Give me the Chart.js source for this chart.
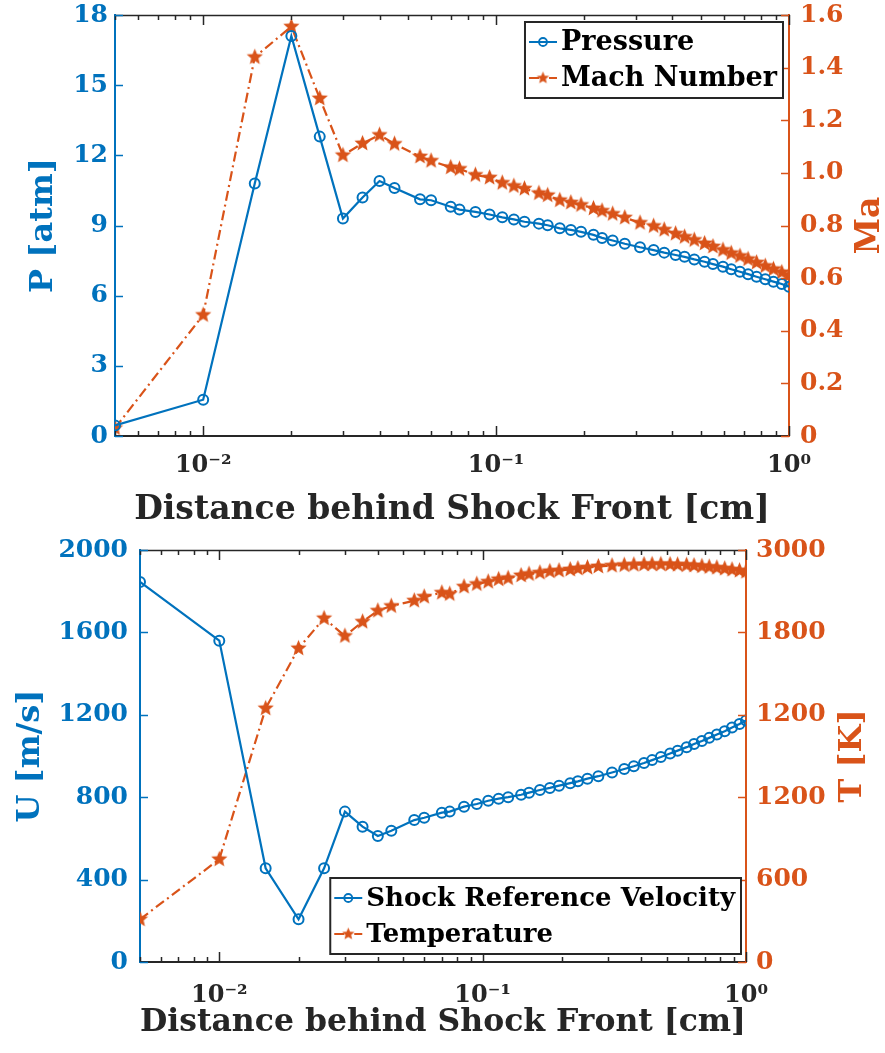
<!DOCTYPE html>
<html>
<head>
<meta charset="utf-8">
<script src="https://cdn.jsdelivr.net/npm/chart.js@4.4.0/dist/chart.umd.min.js"></script>
<style>
html, body { margin: 0; padding: 0; background: #fff; }
#wrap { position: relative; width: 885px; height: 1053px; }
canvas { position: absolute; left: 0; }
#top { top: 0; }
#bottom { top: 530px; }
</style>
</head>
<body>
<div id="wrap">
  <canvas id="top" width="885" height="530"></canvas>
  <canvas id="bottom" width="885" height="523"></canvas>
</div>
<script>
// distance behind shock front [cm]
const distance = [0.005, 0.01, 0.015, 0.02, 0.025, 0.03, 0.035, 0.04, 0.045, 0.055,
  0.06, 0.07, 0.075, 0.085, 0.095, 0.105, 0.115, 0.125, 0.14, 0.15,
  0.165, 0.18, 0.195, 0.215, 0.23, 0.25, 0.275, 0.31, 0.345, 0.375,
  0.41, 0.44, 0.475, 0.515, 0.55, 0.595, 0.635, 0.68, 0.725, 0.775,
  0.83, 0.885, 0.945, 1.0]

const pressure = [0.45, 1.55, 10.8, 17.1, 12.8, 9.3, 10.2, 10.9, 10.6, 10.12,
  10.08, 9.8, 9.68, 9.58, 9.47, 9.35, 9.26, 9.16, 9.08, 9.01,
  8.88, 8.81, 8.73, 8.6, 8.47, 8.36, 8.22, 8.07, 7.95, 7.84,
  7.74, 7.66, 7.55, 7.45, 7.35, 7.24, 7.13, 7.02, 6.92, 6.81,
  6.7, 6.6, 6.5, 6.38]

const mach = [0.03, 0.46, 1.44, 1.556, 1.283, 1.067, 1.112, 1.144, 1.11, 1.062,
  1.046, 1.021, 1.015, 0.992, 0.982, 0.962, 0.95, 0.94, 0.923, 0.915,
  0.896, 0.887, 0.878, 0.865, 0.856, 0.844, 0.83, 0.81, 0.798, 0.784,
  0.769, 0.757, 0.745, 0.732, 0.72, 0.707, 0.695, 0.684, 0.672, 0.659,
  0.646, 0.634, 0.622, 0.61]

const velocity = [1845, 1560, 455, 207, 455, 730, 657, 612, 637, 689,
  700, 725, 730, 754, 767, 783, 793, 800, 812, 822,
  835, 845, 856, 868, 877, 890, 902, 920, 937, 950,
  966, 980, 995, 1012, 1026, 1043, 1058, 1073, 1088, 1104,
  1120, 1138, 1155, 1172]

const temperature = [311, 748, 1847, 2284, 2503, 2374, 2478, 2558, 2592, 2631,
  2660, 2689, 2680, 2733, 2752, 2769, 2787, 2795, 2815, 2825,
  2835, 2845, 2850, 2858, 2865, 2872, 2880, 2886, 2890, 2893,
  2895, 2896, 2896, 2895, 2893, 2890, 2887, 2882, 2877, 2871,
  2864, 2857, 2850, 2842]

const xTickValues = [0.005, 0.006, 0.007, 0.008, 0.009,
  0.01, 0.02, 0.03, 0.04, 0.05, 0.06, 0.07, 0.08, 0.09,
  0.1, 0.2, 0.3, 0.4, 0.5, 0.6, 0.7, 0.8, 0.9, 1]
const xDecades = [0.01, 0.1, 1]
const xDecadeLabels = ['10\u207B\u00B2', '10\u207B\u00B9', '10\u2070']
// right-hand labels of the lower plot, as printed in the figure
const tempTickLabels = ['0', '600', '1200', '1200', '1800', '3000']

const blue = '#0072BD'
const orange = '#D95319'
const dark = '#262626'
const serif = "'DejaVu Serif', 'Liberation Serif', serif"
const tickFont = { family: serif, weight: 'bold', size: 25 }
const xTickFont = { family: serif, weight: 'bold', size: 24 }

function starImage(r, color) {
  const c = document.createElement('canvas')
  const s = Math.ceil(r * 2) + 2
  c.width = s
  c.height = s
  const ctx = c.getContext('2d')
  ctx.fillStyle = color
  ctx.beginPath()
  for (let i = 0; i < 10; i++) {
    const a = -Math.PI / 2 + i * Math.PI / 5
    const rr = i % 2 ? r * 0.45 : r
    ctx.lineTo(s / 2 + rr * Math.cos(a), s / 2 + rr * Math.sin(a))
  }
  ctx.closePath()
  ctx.fill()
  return c
}
const star = starImage(8.5, orange)
const smallStar = starImage(6.5, orange)

const pts = ys => distance.map((d, i) => ({ x: d, y: ys[i] }))

// matlab style box: top edge + inward ticks
const matlabBox = {
  id: 'matlabBox',
  afterDraw(chart) {
    const { ctx, chartArea: a, scales } = chart
    ctx.save()
    ctx.lineWidth = 1.5
    ctx.strokeStyle = dark
    ctx.beginPath()
    ctx.moveTo(a.left, a.top + 0.5)
    ctx.lineTo(a.right, a.top + 0.5)
    ctx.stroke()
    scales.x.ticks.forEach(t => {
      const px = Math.round(scales.x.getPixelForValue(t.value)) + 0.5
      const len = xDecades.includes(t.value) ? 10 : 5
      ctx.beginPath()
      ctx.moveTo(px, a.bottom); ctx.lineTo(px, a.bottom - len)
      ctx.moveTo(px, a.top); ctx.lineTo(px, a.top + len)
      ctx.stroke()
    })
    Object.values(scales).filter(s => s.axis === 'y').forEach(s => {
      ctx.strokeStyle = s.options.border.color
      s.ticks.forEach(t => {
        const py = Math.round(s.getPixelForValue(t.value)) + 0.5
        ctx.beginPath()
        if (s.position === 'left') { ctx.moveTo(a.left, py); ctx.lineTo(a.left + 8, py) }
        else { ctx.moveTo(a.right, py); ctx.lineTo(a.right - 8, py) }
        ctx.stroke()
      })
    })
    ctx.restore()
  }
}

// boxed legend inside the plot
const boxLegend = {
  id: 'boxLegend',
  afterDraw(chart, args, o) {
    const { ctx, chartArea: a } = chart
    const sets = chart.data.datasets
    ctx.save()
    ctx.font = `bold ${o.size}px ${serif}`
    const tw = Math.max(...sets.map(d => ctx.measureText(d.label).width))
    const w = 36 + tw + 6
    const h = sets.length * o.rowH + 4
    const x = a.right - o.right - w
    const y = o.top ? a.top + o.top : a.bottom - o.bottom - h
    ctx.fillStyle = '#fff'
    ctx.fillRect(x, y, w, h)
    ctx.strokeStyle = dark
    ctx.lineWidth = 2
    ctx.strokeRect(x, y, w, h)
    sets.forEach((d, i) => {
      const cy = y + 2 + o.rowH * (i + 0.5)
      ctx.strokeStyle = d.borderColor
      ctx.lineWidth = 2
      ctx.setLineDash(d.borderDash || [])
      ctx.beginPath()
      ctx.moveTo(x + 4, cy); ctx.lineTo(x + 32, cy)
      ctx.stroke()
      ctx.setLineDash([])
      if (d.pointStyle === 'circle') {
        ctx.lineWidth = 1.8
        ctx.beginPath()
        ctx.arc(x + 18, cy, 4, 0, Math.PI * 2)
        ctx.stroke()
      } else {
        ctx.drawImage(smallStar, x + 18 - smallStar.width / 2, cy - smallStar.height / 2)
      }
      ctx.fillStyle = '#000'
      ctx.textBaseline = 'middle'
      ctx.fillText(d.label, x + 36, cy + 1)
    })
    ctx.restore()
  }
}

// right axis title, reading bottom to top like the left one
const sideTitle = {
  id: 'sideTitle',
  afterDraw(chart, args, o) {
    const { ctx, chartArea: a } = chart
    ctx.save()
    ctx.translate(a.right + o.offset, (a.top + a.bottom) / 2)
    ctx.rotate(-Math.PI / 2)
    ctx.font = `bold ${o.size}px ${serif}`
    ctx.fillStyle = orange
    ctx.textAlign = 'center'
    ctx.textBaseline = 'middle'
    ctx.fillText(o.text, 0, 0)
    ctx.restore()
  }
}

function xScale(height, labelPad, titleSize, titlePad) {
  return {
    type: 'logarithmic', min: 0.005, max: 1,
    afterBuildTicks: s => { s.ticks = xTickValues.map(v => ({ value: v })) },
    afterFit: s => { s.height = height; s.paddingLeft = 0; s.paddingRight = 0 },
    grid: { display: false, drawTicks: false },
    border: { display: true, color: dark, width: 2 },
    ticks: {
      autoSkip: false, maxRotation: 0, padding: labelPad, color: dark, font: xTickFont,
      callback: v => { const k = xDecades.indexOf(v); return k < 0 ? '' : xDecadeLabels[k] }
    },
    title: { display: true, text: 'Distance behind Shock Front [cm]', color: dark,
      font: { family: serif, weight: 'bold', size: titleSize },
      padding: { top: 0, bottom: titlePad } }
  }
}

function yScale(pos, color, width, min, max, step, pad, cb, title, titlePad) {
  const s = {
    position: pos, min: min, max: max,
    afterFit: sc => { sc.width = width; sc.paddingTop = 0; sc.paddingBottom = 0 },
    grid: { display: false, drawTicks: false },
    border: { display: true, color: color, width: 2 },
    ticks: { stepSize: step, padding: pad, color: color, font: tickFont, callback: cb }
  }
  if (title) s.title = { display: true, text: title, color: color,
    font: { family: serif, weight: 'bold', size: 32 }, padding: { top: titlePad, bottom: 0 } }
  return s
}

new Chart(document.getElementById('top'), {
  type: 'line',
  data: {
    datasets: [{
      label: 'Pressure', data: pts(pressure), yAxisID: 'p',
      borderColor: blue, borderWidth: 2.2, pointStyle: 'circle', pointRadius: 5,
      pointBorderWidth: 2, pointBorderColor: blue, pointBackgroundColor: 'rgba(0,0,0,0)'
    }, {
      label: 'Mach Number', data: pts(mach), yAxisID: 'ma',
      borderColor: orange, borderWidth: 2.2, borderDash: [10, 4, 2, 4], pointStyle: star, pointRadius: 8
    }]
  },
  options: {
    responsive: false, animation: false, events: [],
    layout: { padding: { top: 15, left: 0, right: 0, bottom: 0 } },
    plugins: {
      legend: { display: false }, tooltip: { enabled: false },
      boxLegend: { size: 27, rowH: 36, right: 6, top: 7 },
      sideTitle: { text: 'Ma', offset: 81, size: 33 }
    },
    scales: {
      x: xScale(94, 15, 33, 0),
      p: yScale('left', blue, 115, 0, 18, 3, 7, v => v, 'P [atm]', 24),
      ma: yScale('right', orange, 96, 0, 1.6, 0.2, 11, v => v === 0 ? '0' : v.toFixed(1))
    }
  },
  plugins: [matlabBox, boxLegend, sideTitle]
})

new Chart(document.getElementById('bottom'), {
  type: 'line',
  data: {
    datasets: [{
      label: 'Shock Reference Velocity', data: pts(velocity), yAxisID: 'u',
      borderColor: blue, borderWidth: 2.2, pointStyle: 'circle', pointRadius: 5,
      pointBorderWidth: 2, pointBorderColor: blue, pointBackgroundColor: 'rgba(0,0,0,0)'
    }, {
      label: 'Temperature', data: pts(temperature), yAxisID: 't',
      borderColor: orange, borderWidth: 2.2, borderDash: [10, 4, 2, 4], pointStyle: star, pointRadius: 8
    }]
  },
  options: {
    responsive: false, animation: false, events: [],
    layout: { padding: { top: 20, left: 0, right: 0, bottom: 0 } },
    plugins: {
      legend: { display: false }, tooltip: { enabled: false },
      boxLegend: { size: 26, rowH: 36, right: 5, bottom: 8 },
      sideTitle: { text: 'T [K]', offset: 107, size: 32 }
    },
    scales: {
      x: xScale(91, 19, 32, 11),
      u: yScale('left', blue, 140, 0, 2000, 400, 12, v => v, 'U [m/s]', 11),
      t: yScale('right', orange, 139, 0, 3000, 600, 10, (v, i) => tempTickLabels[i])
    }
  },
  plugins: [matlabBox, boxLegend, sideTitle]
})
</script>
</body>
</html>
